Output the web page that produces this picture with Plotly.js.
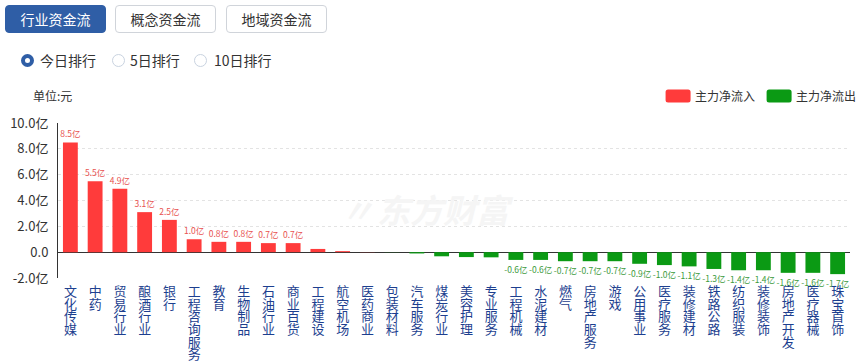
<!DOCTYPE html>
<html>
<head>
<meta charset="utf-8">
<script src="https://cdn.plot.ly/plotly-3.0.1.min.js"></script>
<style>
  html, body { margin:0; padding:0; background:#fff; width:866px; height:363px; overflow:hidden;
    font-family: "Noto Sans CJK SC", "Noto Sans", sans-serif; }
  #chart { position:absolute; left:0; top:0; width:866px; height:363px; }
  .btn { position:absolute; top:5px; height:28px; width:101px; box-sizing:border-box; border:1px solid #d0d4da;
    border-radius:4px; font-size:14px; line-height:26px; text-align:center; color:#333; background:#fff; z-index:2; }
  .btn.active { background:#2f5ea6; border-color:#2f5ea6; color:#fff; }
  .radio { position:absolute; top:51px; height:18px; font-size:14px; line-height:18px; color:#333; z-index:2; }
  .radio span.c { position:absolute; left:0; top:3px; width:13px; height:13px; box-sizing:border-box; border-radius:50%;
    border:1px solid #c9d3e0; background:#fff; }
  .radio span.c.on { border:4px solid #2f5ea6; }
  .radio span.t { position:absolute; white-space:nowrap; }
  #unit { position:absolute; left:33px; top:87px; font-size:12px; color:#333; z-index:2; }
</style>
</head>
<body>
<div class="btn active" style="left:5px;">行业资金流</div>
<div class="btn" style="left:115px;">概念资金流</div>
<div class="btn" style="left:226px;">地域资金流</div>
<div class="radio" style="left:21px;"><span class="c on"></span><span class="t" style="left:19px;">今日排行</span></div>
<div class="radio" style="left:112px;"><span class="c"></span><span class="t" style="left:18px;">5日排行</span></div>
<div class="radio" style="left:194px;"><span class="c"></span><span class="t" style="left:20px;">10日排行</span></div>
<div id="unit">单位:元</div>
<div id="chart"></div>
<script>
// Data (亿元)
const categories = ["文化传媒","中药","贸易行业","酿酒行业","银行","工程咨询服务","教育","生物制品","石油行业","商业百货",
  "工程建设","航空机场","医药商业","包装材料","汽车服务","煤炭行业","美容护理","专业服务","工程机械","水泥建材",
  "燃气","房地产服务","游戏","公用事业","医疗服务","装修建材","铁路公路","纺织服装","装修装饰","房地产开发","医疗器械","珠宝首饰"];
const values = [8.5,5.5,4.9,3.1,2.5,1.0,0.8,0.8,0.7,0.7,
  0.25,0.08,0.01,-0.01,-0.1,-0.32,-0.38,-0.4,-0.6,-0.6,
  -0.7,-0.7,-0.7,-0.9,-1.0,-1.1,-1.3,-1.4,-1.4,-1.6,-1.6,-1.7];
const yTickVals = [-2,0,2,4,6,8,10];
const yTickText = ["-2.0亿","0.0","2.0亿","4.0亿","6.0亿","8.0亿","10.0亿"];
const seriesNames = ["主力净流入","主力净流出"];

const RED = "#ff3b3b", GREEN = "#0b9a14";
const xLabels = categories.map(c => c.split("").join("<br>"));
const lbl = v => Math.abs(v) >= 0.5 ? v.toFixed(1) + "亿" : "";

const inflow = {
  type:"bar", name:seriesNames[0], x:xLabels, y:values.map(v => v > 0 ? v : null),
  text:values.map(v => v > 0 ? lbl(v) : ""), textposition:"outside", constraintext:"none", cliponaxis:false,
  textfont:{size:8.5, color:"#e8524f", family:"Noto Sans CJK SC"},
  marker:{color:RED}, hoverinfo:"skip"
};
const outflow = {
  type:"bar", name:seriesNames[1], x:xLabels, y:values.map(v => v < 0 ? v : null),
  text:values.map(v => v < 0 ? lbl(v) : ""), textposition:"outside", constraintext:"none", cliponaxis:false,
  textfont:{size:8.5, color:"#3c9a3c", family:"Noto Sans CJK SC"},
  marker:{color:GREEN}, hoverinfo:"skip"
};

const layout = {
  width:866, height:363,
  margin:{l:58, r:16, t:123, b:85, autoexpand:false},
  paper_bgcolor:"rgba(0,0,0,0)", plot_bgcolor:"#fff",
  barmode:"relative", bargap:0.4,
  font:{family:"Noto Sans CJK SC, sans-serif", color:"#333"},
  showlegend:true,
  legend:{orientation:"h", x:1.0203, xanchor:"right", y:1.175, yanchor:"middle",
    font:{size:12, color:"#333"}, itemwidth:30, bgcolor:"rgba(0,0,0,0)", traceorder:"normal"},
  xaxis:{type:"category", tickangle:0, showgrid:false, showline:false, zeroline:false, ticks:"",
    tickfont:{size:13, color:"#1d3f8f", family:"Noto Sans CJK SC"}, ticklabelstandoff:4, automargin:false, fixedrange:true},
  yaxis:{range:[-2,10], tickvals:yTickVals, ticktext:yTickText, showline:true, linecolor:"#333", linewidth:1,
    showgrid:true, gridcolor:"#e3e3e3", griddash:"dot", gridwidth:1,
    zeroline:true, zerolinecolor:"#333", zerolinewidth:1, ticks:"",
    tickfont:{size:13, color:"#333"}, ticklabelstandoff:6, automargin:false, fixedrange:true},
  annotations:[{xref:"paper", yref:"paper", x:0.489, y:0.445, showarrow:false,
    text:"<b><i>东方财富</i></b>", font:{size:33, color:"#f5f5f5", family:"Noto Sans CJK SC"}},
    {xref:"paper", yref:"paper", x:0.378, y:0.445, showarrow:false,
    text:"<b><i>〃</i></b>", font:{size:33, color:"#f5f5f5", family:"Noto Sans CJK SC"}}]
};

Plotly.newPlot("chart", [inflow, outflow], layout, {displayModeBar:false, staticPlot:true}).then(gd => {
  // tighten vertical label line spacing
  gd.querySelectorAll(".xtick text tspan.line").forEach(t => {
    const dy = t.getAttribute("dy");
    if (dy && dy.endsWith("em")) t.setAttribute("dy", (parseFloat(dy) * 0.75) + "em");
  });
  // rounded rectangle legend symbols
  gd.querySelectorAll(".legend .legendpoints path").forEach(p => {
    p.setAttribute("d", "M-7,-6.5H13A2.5,2.5 0 0 1 15.5,-4V4A2.5,2.5 0 0 1 13,6.5H-7A2.5,2.5 0 0 1 -9.5,4V-4A2.5,2.5 0 0 1 -7,-6.5Z");
    p.style.strokeWidth = "0";
  });
  // tighten spacing between legend items
  const items = gd.querySelectorAll(".legend g.traces");
  if (items.length > 1) {
    const g = items[1];
    const m = /translate\(([-\d.]+),\s*([-\d.]+)\)/.exec(g.getAttribute("transform") || "");
    if (m) g.setAttribute("transform", "translate(" + (parseFloat(m[1]) - 4) + "," + m[2] + ")");
  }
});
</script>
</body>
</html>
